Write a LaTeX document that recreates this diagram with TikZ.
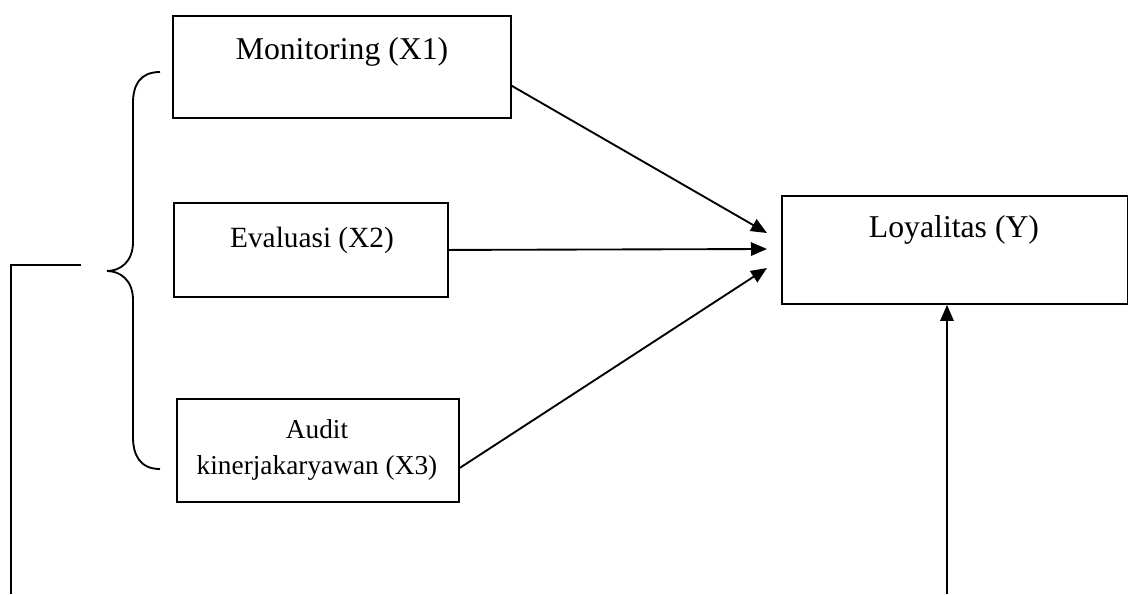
\documentclass[tikz,border=0pt]{standalone}
\usepackage{fontspec}
\setmainfont{Liberation Serif}
\usetikzlibrary{arrows.meta,calc}
\begin{document}
\begin{tikzpicture}[x=0.75pt,y=-0.75pt,
  box/.style={draw,line width=1.4pt,inner sep=0pt,anchor=north west},
  lbl/.style={anchor=base,font=\fontsize{23.8pt}{28pt}\selectfont,align=center,inner sep=0pt},
  lblmid/.style={anchor=base,font=\fontsize{22pt}{26pt}\selectfont,align=center,inner sep=0pt},
  lblsmall/.style={anchor=base,font=\fontsize{20.5pt}{25pt}\selectfont,align=center,inner sep=0pt},
  conn/.style={line width=1.4pt},
  arr/.style={line width=1.4pt,-{Triangle[length=12pt,width=10pt]}}]
\useasboundingbox (0,0) rectangle (1128,594);
\node[box,minimum width=253.5pt,minimum height=76.5pt] (mon) at (172,15) {};
\node[box,minimum width=205.5pt,minimum height=70.5pt] (eva) at (173,202) {};
\node[box,minimum width=211.5pt,minimum height=77.25pt] (aud) at (176,398) {};
\node[box,minimum width=259.5pt,minimum height=81pt] (loy) at (781,195) {};
\node[lbl] (tmon) at (342,59) {Monitoring (X1)};
\node[lblmid] (teva) at (312,247) {Evaluasi (X2)};
\node[lblsmall] (taud1) at (317,438) {Audit};
\node[lblsmall] (taud2) at (317,474) {kinerjakaryawan (X3)};
\node[lbl] (tloy) at (954,237) {Loyalitas (Y)};
\coordinate (tip1) at (767,233);
\coordinate (tip2) at (767,249);
\coordinate (tip3) at (767,268);
\draw[arr] ($(mon.south east)+(0,-33)$) -- (tip1);
\draw[arr] (eva.east) -- (tip2);
\draw[arr] ($(aud.south east)+(0,-35)$) -- (tip3);
\coordinate (bot) at (947,594);
\draw[arr] (bot) -- (bot |- loy.south);
\draw[conn] (160,72) .. controls (140,72) and (133,85) .. (133,103) -- (133,242)
  .. controls (133,262) and (120,271) .. (107,271)
  .. controls (120,271) and (133,280) .. (133,300) -- (133,437)
  .. controls (133,455) and (140,469) .. (160,469);
\coordinate (lstart) at (81,265);
\coordinate (lcorner) at (11,265);
\coordinate (lend) at (11,594);
\draw[conn] (lstart) -- (lcorner) -- (lend);
\end{tikzpicture}
\end{document}
